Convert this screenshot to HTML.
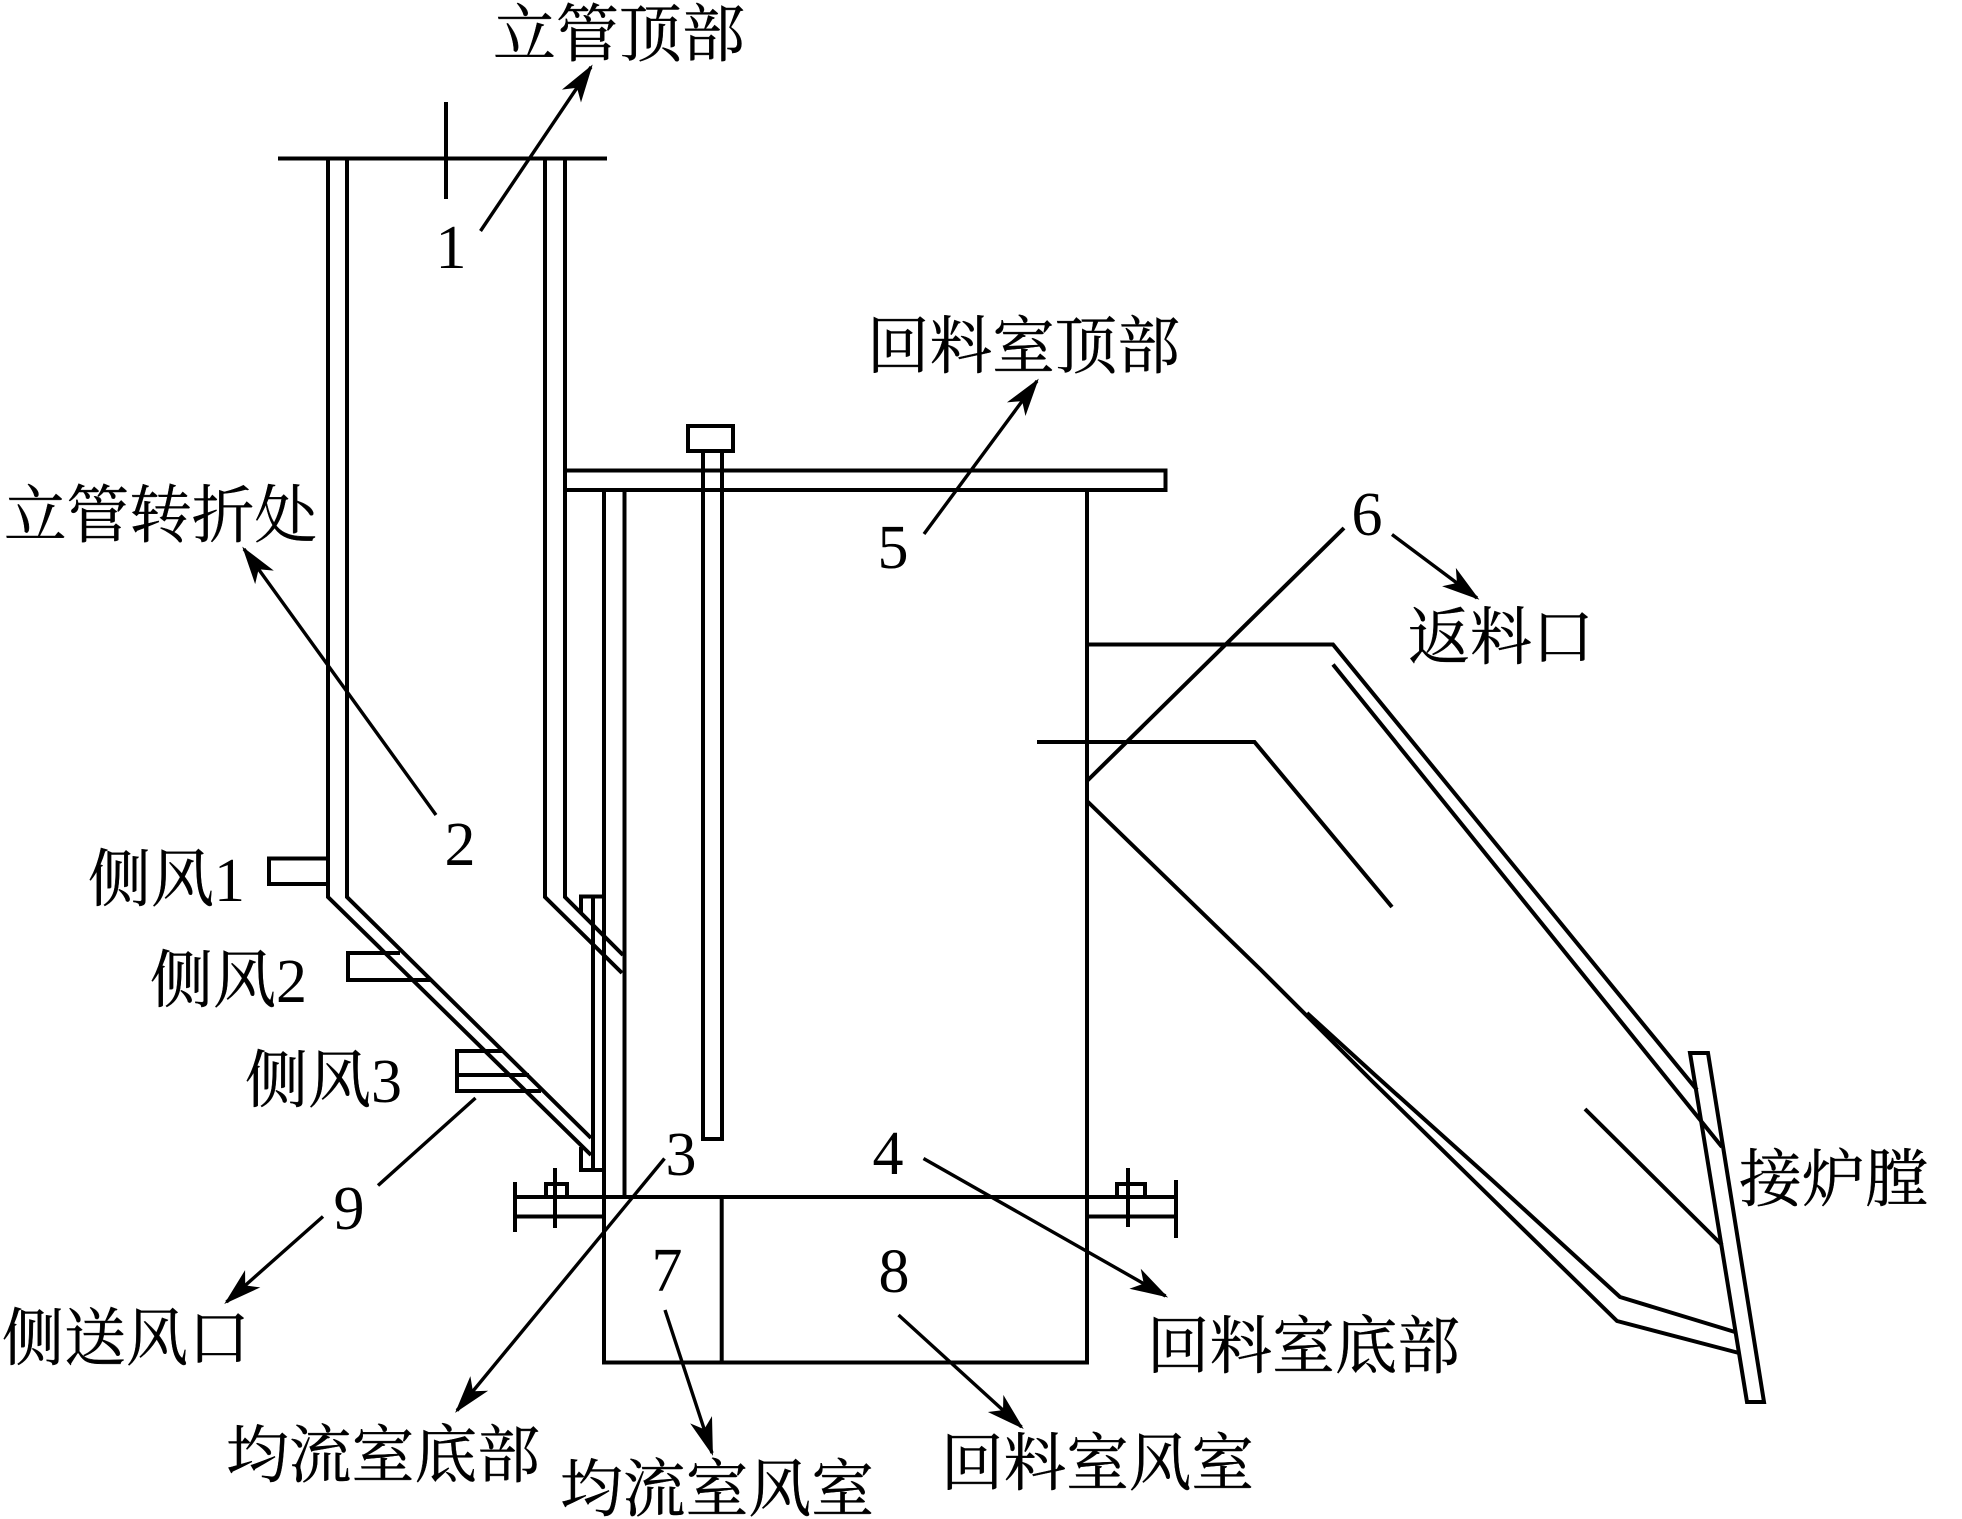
<!DOCTYPE html>
<html>
<head>
<meta charset="utf-8">
<style>
html,body{margin:0;padding:0;background:#fff;}
svg{display:block;}
.c{font-family:"Liberation Serif","Noto Serif CJK SC",serif;font-size:63px;fill:#000;stroke:#000;stroke-width:.4;}
.d{font-family:"Liberation Serif",serif;font-size:62px;fill:#000;text-anchor:middle;}
.l{fill:none;stroke:#000;stroke-width:4;stroke-linejoin:miter;stroke-linecap:butt;}
.a{fill:none;stroke:#000;stroke-width:3.4;}
</style>
</head>
<body>
<svg width="1962" height="1519" viewBox="0 0 1962 1519" xmlns="http://www.w3.org/2000/svg">
<defs>
<marker id="h" viewBox="-40 -14 46 28" markerUnits="userSpaceOnUse" markerWidth="46" markerHeight="28" refX="0" refY="0" orient="auto">
<path d="M3 0L-35 -11.500L-25 0L-35 11.500Z" fill="#000"/>
</marker>
</defs>
<rect width="1962" height="1519" fill="#fff"/>

<!-- riser -->
<path class="l" d="M278 158.500H607"/>
<path class="l" d="M446 102V199"/>
<path class="l" d="M328 158V897L591 1155"/>
<path class="l" d="M347 158V897L591 1138"/>
<path class="l" d="M545 158V897L622 973"/>
<path class="l" d="M565 158V897L623 955"/>

<!-- side air -->
<path class="l" d="M328 858.500H269V884H328"/>
<path class="l" d="M400 953H348V980H430"/>
<path class="l" d="M504 1051H457V1091H541"/>
<path class="l" d="M457 1075H529"/>

<!-- small baffle -->
<path class="l" d="M581 914V896.500H604"/>
<path class="l" d="M593 896V1170"/>
<path class="l" d="M581 1147V1170H604"/>

<!-- top plate -->
<path class="l" d="M565 470.500H1165.500V490H565"/>
<path class="l" d="M604 490V1362.500H1087V490"/>
<path class="l" d="M624.500 490V1197"/>

<!-- rod -->
<path class="l" d="M703 451V1139H722V451"/>
<rect class="l" x="688" y="426" width="45" height="25"/>

<!-- bottom -->
<path class="l" d="M515 1197H1176"/>
<path class="l" d="M515 1216.500H604"/>
<path class="l" d="M515 1182V1232"/>
<path class="l" d="M555 1168V1228"/>
<path class="l" d="M546 1197V1184H567V1197"/>
<path class="l" d="M721.700 1197V1362"/>
<path class="l" d="M1087 1216.500H1176"/>
<path class="l" d="M1176 1180V1238"/>
<path class="l" d="M1128 1168V1227"/>
<path class="l" d="M1117 1197V1184H1145V1197"/>

<!-- return leg -->
<path class="l" d="M1087 644.500H1333L1697 1090"/>
<path class="l" d="M1333 664.500L1722 1147"/>
<path class="l" d="M1037 742H1254.500L1392 907"/>
<path class="l" d="M1087 801L1260 969L1372 1081L1473 1180L1617 1321L1739 1353"/>
<path class="l" d="M1307 1013L1375 1075L1492 1180L1620 1297L1735 1332"/>
<path class="l" d="M1585 1109L1722 1245"/>
<path class="l" d="M1690 1053H1708L1764 1402H1747Z"/>
<path class="l" d="M1344 528L1087 781"/>

<!-- leaders -->
<path class="a" d="M480.500 231L591 67" marker-end="url(#h)"/>
<path class="a" d="M924 534L1037 381" marker-end="url(#h)"/>
<path class="a" d="M436 815L244 549" marker-end="url(#h)"/>
<path class="a" d="M1392 534.500L1477 598" marker-end="url(#h)"/>
<path class="a" d="M475.500 1098L378 1185.500"/>
<path class="a" d="M323 1216.500L226.500 1302" marker-end="url(#h)"/>
<path class="a" d="M664.500 1158.500L457 1410.500" marker-end="url(#h)"/>
<path class="a" d="M923.500 1158.500L1165.500 1296" marker-end="url(#h)"/>
<path class="a" d="M665 1310L712 1453" marker-end="url(#h)"/>
<path class="a" d="M898.500 1315L1021.500 1427" marker-end="url(#h)"/>

<!-- labels -->
<text class="c" x="493" y="56" textLength="252" lengthAdjust="spacingAndGlyphs">立管顶部</text>
<text class="c" x="867" y="368" textLength="313" lengthAdjust="spacingAndGlyphs">回料室顶部</text>
<text class="c" x="4" y="537" textLength="313" lengthAdjust="spacingAndGlyphs">立管转折处</text>
<text class="c" x="1408" y="659" textLength="186" lengthAdjust="spacingAndGlyphs">返料口</text>
<text class="c" x="1739" y="1201" textLength="189" lengthAdjust="spacingAndGlyphs">接炉膛</text>
<text class="c" x="1147" y="1368" textLength="313" lengthAdjust="spacingAndGlyphs">回料室底部</text>
<text class="c" x="941" y="1485" textLength="313" lengthAdjust="spacingAndGlyphs">回料室风室</text>
<text class="c" x="560" y="1511" textLength="314" lengthAdjust="spacingAndGlyphs">均流室风室</text>
<text class="c" x="226" y="1477" textLength="314" lengthAdjust="spacingAndGlyphs">均流室底部</text>
<text class="c" x="2" y="1360" textLength="248" lengthAdjust="spacingAndGlyphs">侧送风口</text>
<text class="c" x="88" y="901">侧风<tspan style="font-size:62px;stroke-width:0">1</tspan></text>
<text class="c" x="150" y="1002">侧风<tspan style="font-size:62px;stroke-width:0">2</tspan></text>
<text class="c" x="245" y="1102">侧风<tspan style="font-size:62px;stroke-width:0">3</tspan></text>

<text class="d" x="451" y="268">1</text>
<text class="d" x="460" y="865">2</text>
<text class="d" x="681" y="1175">3</text>
<text class="d" x="888" y="1174">4</text>
<text class="d" x="893" y="568">5</text>
<text class="d" x="1367" y="535">6</text>
<text class="d" x="667" y="1291">7</text>
<text class="d" x="894" y="1292">8</text>
<text class="d" x="349" y="1229">9</text>
</svg>
</body>
</html>
